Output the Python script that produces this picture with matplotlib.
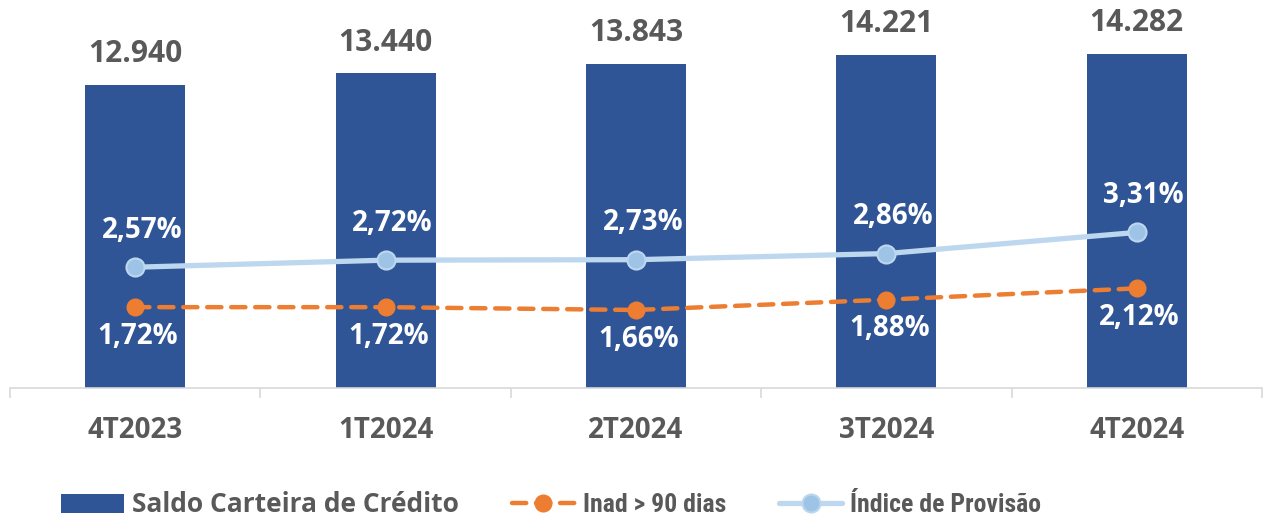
import matplotlib
matplotlib.use("Agg")
import matplotlib.pyplot as plt
from matplotlib.ticker import FixedLocator, NullFormatter

plt.rcParams['font.family'] = ['Open Sans', 'DejaVu Sans']
plt.rcParams['font.weight'] = 'bold'

categories = ["4T2023", "1T2024", "2T2024", "3T2024", "4T2024"]
saldo = [12940, 13440, 13843, 14221, 14282]
inad = [1.72, 1.72, 1.66, 1.88, 2.12]
indice = [2.57, 2.72, 2.73, 2.86, 3.31]

BAR = "#2F5597"
ORANGE = "#ED7D31"
LBLUE_LINE = "#BDD7EE"
LBLUE_MK = "#9DC3E6"
GRAY = "#595959"

W, H = 1264, 521
fig = plt.figure(figsize=(W / 100, H / 100), dpi=100)
left, right, bottom, top = 10, 1262, 388, 10
ax = fig.add_axes([left / W, (H - bottom) / H, (right - left) / W, (bottom - top) / H])
ax2 = ax.twinx()

x = list(range(len(categories)))
bars = ax.bar(x, saldo, width=0.40, color=BAR, zorder=1, label="Saldo Carteira de Crédito")
ax.set_xlim(-0.5, len(categories) - 0.5)
ax.set_ylim(0, (bottom - top) / 0.02342)
ax2.set_ylim(0, (bottom - top) / 47.0)

for xi, v in zip(x, saldo):
    s = f"{v:,}".replace(",", ".")
    ax.annotate(s, (xi, v), xytext=(0, 22), textcoords="offset points", ha="center", va="center",
                fontsize=21.5, color=GRAY, fontweight="bold")

l1, = ax2.plot(x, inad, color=ORANGE, lw=3.2, ls=(0, (3.2, 2.2)), dash_capstyle="round",
               marker="o", markersize=12, markerfacecolor=ORANGE, markeredgecolor=ORANGE,
               zorder=3, label="Inad > 90 dias")
l2, = ax2.plot(x, indice, color=LBLUE_LINE, lw=3.8, solid_capstyle="round",
               marker="o", markersize=13, markerfacecolor=LBLUE_MK, markeredgecolor=LBLUE_LINE,
               markeredgewidth=1.5, zorder=3, label="Índice de Provisão")

for xi, v in zip(x, indice):
    ax2.annotate(f"{v:.2f}%".replace(".", ","), (xi, v), xytext=(5, 26.5), textcoords="offset points",
                 ha="center", va="center", fontsize=20, color="white", fontweight="bold", zorder=4)
for xi, v in zip(x, inad):
    ax2.annotate(f"{v:.2f}%".replace(".", ","), (xi, v), xytext=(2, -21), textcoords="offset points",
                 ha="center", va="center", fontsize=20, color="white", fontweight="bold", zorder=4)

for a in (ax, ax2):
    for sp in a.spines.values():
        sp.set_visible(False)
    a.set_yticks([])
ax.spines["bottom"].set_visible(True)
ax.spines["bottom"].set_color("#D9D9D9")
ax.spines["bottom"].set_linewidth(1.2)

ax.set_xticks(x)
ax.set_xticklabels(categories, fontsize=20, color=GRAY, fontweight="bold")
ax.tick_params(axis="x", which="major", length=0, pad=20)
ax.xaxis.set_minor_locator(FixedLocator([i - 0.5 for i in range(len(categories) + 1)]))
ax.xaxis.set_minor_formatter(NullFormatter())
ax.tick_params(axis="x", which="minor", length=7, width=1.2, color="#D9D9D9", direction="out")

leg = fig.legend(handles=[bars, l1, l2], loc="center", bbox_to_anchor=(551 / W, (H - 505) / H),
                 ncol=3, frameon=False, fontsize=19, handlelength=2.4, handletextpad=0.3,
                 columnspacing=2.0)
texts = leg.get_texts()
for t in texts:
    t.set_color(GRAY)
    t.set_fontweight("bold")
for t in texts[1:]:
    t.set_family(['Noto Sans Condensed', 'Roboto Condensed', 'Open Sans Condensed', 'Noto Sans'])
    t.set_stretch('condensed')
    t.set_fontsize(18.5)

fig.savefig("out.png", dpi=100)
